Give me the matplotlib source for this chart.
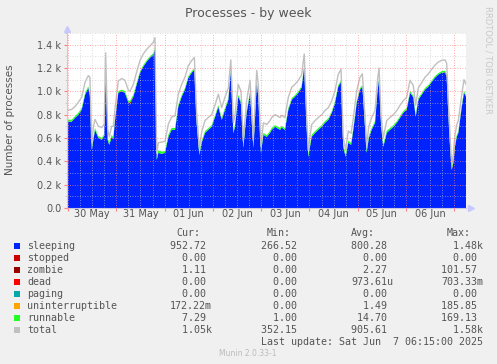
import matplotlib
matplotlib.use("Agg")
import matplotlib.pyplot as plt
import matplotlib.patches as mpatches
import numpy as np

# hours since 30 May 00:00
hours = [
    -0.5, 1.8, 3.5, 5.1, 6.8, 8.5, 10.1, 10.9, 11.8, 12.6,
    13.4, 15.1, 16.8, 18.0, 18.7, 19.7, 20.5, 21.7, 22.5, 23.4,
    25.0, 26.7, 28.3, 30.0, 30.8, 32.5, 34.1, 35.8, 37.4, 39.1,
    40.8, 42.4, 43.2, 44.1, 44.9, 46.6, 48.2, 49.9, 51.5, 53.2,
    54.8, 56.5, 58.1, 59.8, 61.5, 62.8, 63.9, 65.3, 66.4, 68.1,
    69.7, 71.4, 73.1, 74.7, 76.4, 78.0, 79.7, 80.9, 82.2, 83.0,
    84.6, 86.0, 87.1, 88.8, 90.5, 92.1, 93.8, 94.6, 95.9, 97.1,
    98.8, 100.4, 101.2, 102.9, 105.4, 106.2, 107.8, 109.5, 111.2, 112.8,
    114.5, 116.1, 117.4, 118.6, 119.4, 121.1, 122.8, 124.4, 126.1, 127.7,
    129.4, 131.1, 132.7, 134.3, 135.7, 136.8, 138.0, 139.3, 140.7, 141.8,
    143.5, 145.1, 146.3, 147.6, 148.4, 149.5, 150.9, 152.6, 153.9, 154.6,
    155.6, 156.7, 158.4, 160.0, 161.7, 163.4, 165.0, 166.6, 168.3, 170.0,
    171.6, 172.8, 174.1, 175.8, 177.4, 179.1, 180.8, 182.4, 184.0, 185.7,
    187.4, 188.2, 189.0, 189.9, 190.7, 191.5, 192.3, 193.2, 194.0, 195.7,
    196.8, 197.8,
]

sleeping = [
    741, 740, 773, 799, 842, 971, 1030, 960, 498, 584,
    670, 601, 584, 620, 1250, 584, 541, 610, 590, 756,
    988, 1000, 988, 902, 885, 954, 1057, 1160, 1211, 1254,
    1289, 1314, 1357, 412, 472, 465, 472, 610, 670, 670,
    868, 954, 1014, 1117, 1160, 1185, 730, 455, 558, 644,
    670, 696, 782, 868, 756, 842, 928, 1170, 640, 700,
    954, 900, 515, 816, 988, 515, 1074, 950, 472, 627,
    610, 644, 670, 696, 670, 690, 670, 842, 928, 954,
    988, 1031, 1211, 700, 438, 610, 644, 670, 696, 730,
    756, 816, 902, 1040, 1082, 524, 438, 560, 541, 670,
    902, 1014, 1040, 700, 472, 600, 670, 730, 1014, 1100,
    700, 524, 644, 670, 696, 730, 773, 816, 842, 988,
    950, 782, 928, 971, 1014, 1040, 1082, 1117, 1143, 1160,
    1160, 1120, 816, 524, 326, 386, 524, 610, 644, 868,
    988, 954,
]

zombie = [
    0, 0, 0, 0, 0, 0, 0, 0, 0, 0,
    0, 0, 0, 0, 0, 0, 0, 0, 0, 0,
    0, 0, 0, 4, 18, 3, 0, 0, 0, 0,
    0, 0, 2, 0, 0, 0, 0, 0, 0, 0,
    0, 0, 0, 0, 0, 0, 0, 0, 0, 0,
    0, 0, 0, 0, 0, 0, 0, 0, 0, 0,
    0, 0, 0, 0, 0, 0, 0, 0, 0, 0,
    0, 0, 0, 0, 0, 0, 0, 0, 0, 0,
    0, 0, 0, 0, 0, 0, 0, 0, 0, 0,
    0, 0, 0, 0, 0, 0, 0, 0, 0, 0,
    0, 0, 0, 0, 0, 0, 0, 0, 0, 0,
    0, 0, 0, 0, 0, 0, 0, 0, 0, 0,
    0, 0, 0, 0, 0, 0, 0, 0, 0, 0,
    4, 14, 2, 0, 0, 0, 0, 0, 0, 0,
    1, 1,
]

uninterruptible = [
    0, 0, 0, 0, 0, 0, 0, 0, 0, 0,
    0, 0, 0, 0, 0, 0, 0, 0, 0, 0,
    0, 0, 0, 0, 0, 0, 0, 0, 0, 0,
    0, 0, 0, 0, 0, 0, 0, 0, 0, 0,
    0, 0, 0, 0, 0, 0, 0, 0, 0, 0,
    0, 0, 0, 0, 0, 0, 0, 0, 0, 0,
    0, 0, 0, 0, 0, 0, 0, 0, 0, 0,
    0, 0, 0, 0, 0, 0, 0, 0, 0, 0,
    0, 0, 0, 0, 0, 0, 0, 0, 0, 0,
    0, 0, 0, 0, 0, 0, 0, 0, 0, 0,
    0, 0, 0, 0, 0, 0, 0, 0, 0, 0,
    0, 0, 0, 0, 0, 0, 0, 0, 0, 0,
    0, 0, 0, 0, 0, 0, 0, 0, 0, 0,
    0, 0, 0, 0, 6, 22, 12, 0, 0, 0,
    0, 0,
]

runnable = [
    18, 16, 15, 17, 16, 15, 14, 15, 22, 18,
    16, 15, 16, 15, 20, 18, 22, 18, 16, 15,
    14, 15, 14, 16, 15, 16, 14, 13, 14, 13,
    13, 12, 13, 25, 22, 18, 16, 20, 17, 16,
    16, 14, 14, 13, 13, 14, 20, 24, 18, 15,
    14, 15, 14, 14, 18, 15, 14, 14, 20, 16,
    15, 14, 24, 16, 14, 24, 14, 16, 22, 16,
    15, 16, 15, 14, 16, 15, 14, 16, 14, 14,
    14, 13, 14, 20, 25, 18, 15, 16, 15, 14,
    14, 14, 15, 14, 13, 20, 24, 18, 17, 16,
    14, 14, 13, 20, 24, 18, 16, 15, 14, 13,
    20, 22, 18, 15, 15, 14, 14, 14, 15, 14,
    14, 16, 15, 14, 14, 14, 13, 13, 13, 13,
    13, 14, 18, 22, 25, 22, 18, 16, 15, 14,
    14, 14,
]

total = [
    835, 845, 870, 905, 950, 1080, 1135, 1120, 560, 690,
    760, 700, 690, 720, 1330, 680, 610, 700, 700, 860,
    1090, 1110, 1095, 1010, 1000, 1060, 1165, 1265, 1320, 1360,
    1390, 1420, 1460, 470, 560, 565, 570, 720, 780, 790,
    975, 1060, 1120, 1220, 1265, 1290, 820, 510, 650, 750,
    775, 800, 885, 975, 860, 950, 1030, 1270, 730, 800,
    1060, 1000, 580, 920, 1095, 580, 1180, 1050, 530, 730,
    715, 750, 775, 800, 775, 795, 775, 950, 1035, 1060,
    1095, 1140, 1320, 790, 500, 715, 750, 775, 800, 835,
    860, 920, 1005, 1145, 1190, 600, 500, 660, 640, 770,
    1005, 1120, 1150, 790, 540, 700, 775, 835, 1110, 1200,
    790, 600, 750, 775, 800, 835, 880, 920, 950, 1095,
    1050, 880, 1030, 1075, 1120, 1150, 1190, 1225, 1250, 1265,
    1270, 1240, 920, 600, 380, 460, 620, 715, 750, 975,
    1100, 1060,
]

day_labels = ["30 May", "31 May", "01 Jun", "02 Jun", "03 Jun", "04 Jun", "05 Jun", "06 Jun"]

legend_names = ["sleeping", "stopped", "zombie", "dead", "paging", "uninterruptible", "runnable", "total"]
legend_colors = ["#0022ff", "#cc0000", "#990000", "#ff0000", "#00aaaa", "#ffa500", "#22ff22", "#c0c0c0"]
cur_vals = ["952.72 ", "  0.00 ", "  1.11 ", "  0.00 ", "  0.00 ", "172.22m", "  7.29 ", "  1.05k"]
min_vals = ["266.52 ", "  0.00 ", "  0.00 ", "  0.00 ", "  0.00 ", "  0.00 ", "  1.00 ", "352.15 "]
avg_vals = ["800.28 ", "  0.00 ", "  2.27 ", "973.61u", "  0.00 ", "  1.49 ", " 14.70 ", "905.61 "]
max_vals = ["  1.48k", "  0.00 ", "101.57 ", "703.33m", "  0.00 ", "185.85 ", "169.13 ", "  1.58k"]

W, H = 497, 364
txt = "#555555"

fig = plt.figure(figsize=(W / 100, H / 100), dpi=100, facecolor="#f0f0f0")
ax = fig.add_axes([67 / W, 1 - 208 / H, 399 / W, 175 / H])
ax.set_facecolor("white")

t = np.array(hours)
zeros = np.zeros(len(t))
ax.stackplot(t, sleeping, zeros, zombie, zeros, zeros, uninterruptible, runnable,
             colors=legend_colors[:7], linewidth=0, zorder=1)
ax.plot(t, total, color="#c0c0c0", lw=1.0, zorder=2)

ax.set_xlim(-0.5, 197.8)
ax.set_ylim(0, 1500)

ax.set_xticks(np.arange(0, 198, 24))
ax.set_xticks(np.arange(0, 198, 6), minor=True)
ax.set_yticks(np.arange(0, 1401, 200))
ax.set_yticks(np.arange(0, 1501, 100), minor=True)
ax.set_yticklabels(["0.0"] + ["%.1f k" % (v / 1000) for v in range(200, 1401, 200)])
ax.set_xticklabels([])

ax.set_axisbelow(False)
ax.grid(which="minor", color="#c8c8c8", linestyle=(0, (1, 2)), lw=0.6, alpha=0.8)
ax.grid(which="major", color="#ff8080", linestyle=(0, (1, 2)), lw=0.6, alpha=0.9)

ax.tick_params(axis="y", which="major", length=2, color="#ff8080", labelsize=7, labelcolor=txt, pad=2)
ax.tick_params(axis="y", which="minor", length=1.5, color="#c8c8c8")
ax.tick_params(axis="x", which="major", length=2, color="#ff8080", pad=1)
ax.tick_params(axis="x", which="minor", length=0)

for i, lab in enumerate(day_labels):
    ax.text(12 + 24 * i, -12, lab, ha="center", va="top", fontsize=7, color=txt)

for s in ["top", "right"]:
    ax.spines[s].set_visible(False)
for s in ["left", "bottom"]:
    ax.spines[s].set_color("#c8c8e0")
    ax.spines[s].set_linewidth(0.8)
ax.plot([1.012], [0], marker=">", ms=5, color="#c8c8ff", transform=ax.transAxes, clip_on=False)
ax.plot([0], [1.02], marker="^", ms=5, color="#c8c8ff", transform=ax.transAxes, clip_on=False)

fig.text(248 / W, 1 - 13 / H, "Processes - by week", ha="center", va="center", fontsize=9, color=txt)
fig.text(10 / W, 1 - 120 / H, "Number of processes", rotation=90, ha="center", va="center",
         fontsize=7.5, color=txt)
fig.text(488 / W, 1 - 60 / H, "RRDTOOL / TOBI OETIKER", rotation=270, ha="center", va="center",
         fontsize=6, color="#c8c8c8")

# legend block
mono = dict(family="DejaVu Sans Mono", fontsize=7.2, color=txt, va="center")
for hx, hl in zip([176, 267, 351, 447], ["Cur:", "Min:", "Avg:", "Max:"]):
    fig.text(hx / W, 1 - 233 / H, hl, ha="left", **mono)

for i, name in enumerate(legend_names):
    y = 245.7 + 12 * i
    fig.add_artist(mpatches.Rectangle((14 / W, 1 - (y + 3) / H), 6 / W, 6 / H,
                                      transform=fig.transFigure, color=legend_colors[i], lw=0))
    fig.text(27 / W, 1 - y / H, name, ha="left", **mono)
    for xr, col in zip([212, 303, 393, 483], [cur_vals, min_vals, avg_vals, max_vals]):
        fig.text(xr / W, 1 - y / H, col[i], ha="right", **mono)

fig.text(483 / W, 1 - 341.7 / H, "Last update: Sat Jun  7 06:15:00 2025", ha="right", **mono)
fig.text(248 / W, 1 - 353 / H, "Munin 2.0.33-1", ha="center", va="center", fontsize=5.5, color="#bbbbbb")

fig.savefig("out.png", dpi=100, facecolor=fig.get_facecolor())
